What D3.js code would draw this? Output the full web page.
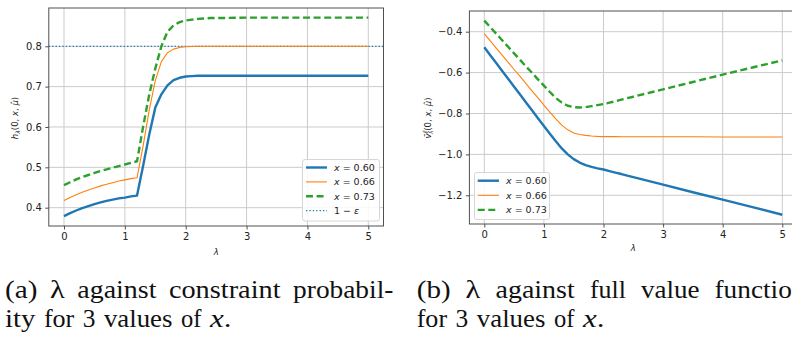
<!DOCTYPE html>
<html><head><meta charset="utf-8">
<script src="https://cdn.jsdelivr.net/npm/d3@7"></script>
<style>body{margin:0;background:#fff}svg{display:block}</style>
</head><body><svg id="c" width="792" height="337"></svg>
<script>
// ---------- data ----------
const lambda = [0,0.1,0.2,0.3,0.4,0.5,0.6,0.7,0.8,0.9,1.0,1.1,1.2,1.3,1.4,1.5,1.6,1.7,1.8,1.9,2.0,2.1,2.2,2.3,2.4,2.5,3.0,3.5,4.0,4.5,5.0];
const seriesLabels = ["0.60","0.66","0.73"];
// (a) constraint probability h_lambda(0,x,mu)
const probX060 = [0.379,0.3865,0.393,0.399,0.404,0.409,0.413,0.417,0.420,0.423,0.425,0.428,0.430,0.504,0.581,0.648,0.681,0.703,0.716,0.722,0.725,0.726,0.727,0.727,0.727,0.727,0.727,0.727,0.727,0.727,0.727];
const probX066 = [0.418,0.425,0.432,0.438,0.444,0.449,0.454,0.458,0.462,0.466,0.469,0.472,0.474,0.553,0.642,0.715,0.762,0.784,0.793,0.797,0.799,0.7995,0.800,0.800,0.800,0.800,0.800,0.800,0.800,0.800,0.800];
const probX073 = [0.456,0.463,0.470,0.476,0.481,0.486,0.491,0.495,0.499,0.503,0.507,0.511,0.515,0.601,0.680,0.745,0.800,0.836,0.852,0.860,0.864,0.866,0.868,0.869,0.870,0.870,0.871,0.871,0.871,0.871,0.871];
const oneMinusEps = 0.8;
// (b) full value function
const valX060 = [-0.476,-0.515,-0.553,-0.592,-0.630,-0.669,-0.707,-0.746,-0.784,-0.823,-0.861,-0.899,-0.936,-0.971,-1.000,-1.023,-1.040,-1.052,-1.061,-1.068,-1.074,-1.0815,-1.089,-1.096,-1.104,-1.111,-1.148,-1.185,-1.221,-1.258,-1.295];
const valX066 = [-0.410,-0.445,-0.480,-0.515,-0.550,-0.585,-0.619,-0.654,-0.689,-0.724,-0.759,-0.793,-0.826,-0.857,-0.880,-0.895,-0.903,-0.907,-0.910,-0.912,-0.913,-0.913,-0.913,-0.914,-0.914,-0.914,-0.914,-0.914,-0.915,-0.915,-0.915];
const valX073 = [-0.346,-0.378,-0.410,-0.442,-0.474,-0.506,-0.538,-0.570,-0.601,-0.633,-0.664,-0.695,-0.724,-0.747,-0.762,-0.769,-0.771,-0.769,-0.764,-0.759,-0.754,-0.747,-0.740,-0.732,-0.725,-0.718,-0.682,-0.646,-0.610,-0.575,-0.540];
// ticks
const xTicks = [0,1,2,3,4,5];
const yTicksA = [0.4,0.5,0.6,0.7,0.8];
const yTicksB = [-1.2,-1.0,-0.8,-0.6,-0.4];

// ---------- drawing ----------
const svg = d3.select("#c");
const FONT = "DejaVu Sans, sans-serif";
const SERIF = '"Liberation Serif", "Times New Roman", serif';
const COLORS = ["#1f77b4","#ff7f0e","#2ca02c"];
const STYLES = [
  {w:2.4, dash:null},
  {w:1.1, dash:null},
  {w:2.4, dash:"7,3.6"}
];

function panel(o){
  const x = d3.scaleLinear().domain([-0.25,5.25]).range([o.left,o.right]);
  const y = d3.scaleLinear().domain(o.ydom).range([o.bottom,o.top]);
  const g = svg.append("g");
  g.selectAll(".gx").data(xTicks).join("line")
    .attr("x1",d=>x(d)).attr("x2",d=>x(d)).attr("y1",o.top).attr("y2",o.bottom)
    .attr("stroke","#cbcbcb").attr("stroke-width",1);
  g.selectAll(".gy").data(o.yTicks).join("line")
    .attr("y1",d=>y(d)).attr("y2",d=>y(d)).attr("x1",o.left).attr("x2",o.right)
    .attr("stroke","#cbcbcb").attr("stroke-width",1);
  if(o.hline!==undefined){
    g.append("line").attr("x1",o.left).attr("x2",o.right)
      .attr("y1",y(o.hline)).attr("y2",y(o.hline))
      .attr("stroke",COLORS[0]).attr("stroke-width",1.3).attr("stroke-dasharray","1.3,2.1");
  }
  const line = d3.line().x((d,i)=>x(lambda[i])).y(d=>y(d));
  o.series.forEach((s,k)=>{
    g.append("path").attr("d",line(s)).attr("fill","none")
      .attr("stroke",COLORS[k]).attr("stroke-width",STYLES[k].w)
      .attr("stroke-dasharray",STYLES[k].dash).attr("stroke-linejoin","round");
  });
  g.append("rect").attr("x",o.left).attr("y",o.top)
    .attr("width",o.right-o.left).attr("height",o.bottom-o.top)
    .attr("fill","none").attr("stroke","#505050").attr("stroke-width",1);
  const ax = g.append("g").attr("transform",`translate(0,${o.bottom})`)
    .call(d3.axisBottom(x).tickValues(xTicks).tickFormat(d3.format("d")).tickSize(3.5).tickPadding(3));
  const ay = g.append("g").attr("transform",`translate(${o.left},0)`)
    .call(d3.axisLeft(y).tickValues(o.yTicks).tickFormat(d3.format(".1f")).tickSize(3.5).tickPadding(3.5));
  [ax,ay].forEach(a=>{
    a.select(".domain").remove();
    a.selectAll(".tick line").attr("stroke","#505050");
    a.selectAll(".tick text").attr("fill","#222").style("font-family",FONT).style("font-size","10px");
  });
  g.append("text").attr("x",(o.left+o.right)/2).attr("y",o.xlabY)
    .attr("text-anchor","middle").attr("font-family",FONT).attr("font-size",8.5)
    .attr("font-style","italic").attr("fill","#222").text("λ");
  const L = o.legend;
  g.append("rect").attr("x",L.x).attr("y",L.y).attr("width",L.w).attr("height",L.h)
    .attr("rx",2.5).attr("fill","#fff").attr("fill-opacity",0.85)
    .attr("stroke","#d6d6d6").attr("stroke-width",1);
  L.items.forEach((it,i)=>{
    const yy = L.y0 + i*L.dy;
    const ln = g.append("line").attr("x1",L.lx1).attr("x2",L.lx2).attr("y1",yy).attr("y2",yy)
      .attr("stroke",it.color).attr("stroke-width",it.w);
    if(it.dash) ln.attr("stroke-dasharray",it.dash);
    const t = g.append("text").attr("x",L.tx).attr("y",yy+3.4)
      .attr("font-family",FONT).attr("font-size",9.5).attr("fill","#222");
    if(it.eps){
      t.append("tspan").text("1 − ");
      t.append("tspan").attr("font-style","italic").text("ε");
    } else {
      t.append("tspan").attr("font-style","italic").text("x");
      t.append("tspan").text(" = "+it.label);
    }
  });
  return {x,y,g};
}

const legendItems = seriesLabels.map((l,k)=>({label:l,color:COLORS[k],w:STYLES[k].w,dash:STYLES[k].dash}));

panel({
  left:48.8,right:383.5,top:8,bottom:226,ydom:[0.3546,0.8949],yTicks:yTicksA,
  series:[probX060,probX066,probX073],hline:oneMinusEps,xlabY:254.5,
  legend:{x:302.5,y:159.5,w:77,h:61.5,y0:167.5,dy:14.4,lx1:306,lx2:327,tx:334,
    items:legendItems.concat([{eps:true,color:COLORS[0],w:1.3,dash:"1.3,2.1"}])}
});
panel({
  left:469.4,right:797.2,top:11,bottom:224,ydom:[-1.3403,-0.2989],yTicks:yTicksB,
  series:[valX060,valX066,valX073],xlabY:251,
  legend:{x:474.5,y:172.5,w:75,h:47,y0:180.7,dy:14.6,lx1:477.7,lx2:499,tx:506,items:legendItems}
});

function ylabA(){
  const t = svg.append("text").attr("transform","translate(18,118) rotate(-90)")
    .attr("text-anchor","middle").attr("font-family",FONT).attr("font-size",8.5).attr("fill","#222");
  t.append("tspan").attr("font-style","italic").text("h");
  t.append("tspan").attr("font-size",6).attr("dy",2).attr("font-style","italic").text("λ");
  t.append("tspan").attr("dy",-2).text("(0, ");
  t.append("tspan").attr("font-style","italic").text("x");
  t.append("tspan").text(", ");
  t.append("tspan").attr("font-style","italic").text("μ̂");
  t.append("tspan").text(")");
}
function ylabB(){
  const t = svg.append("text").attr("transform","translate(431,118) rotate(-90)")
    .attr("text-anchor","middle").attr("font-family",FONT).attr("font-size",8.5).attr("fill","#222");
  t.append("tspan").attr("font-style","italic").text("v̄");
  t.append("tspan").attr("font-size",5.5).attr("dy",-3).attr("font-style","italic").text("ξ̃");
  t.append("tspan").attr("font-size",5.5).attr("dx",-3.5).attr("dy",5).attr("font-style","italic").text("λ");
  t.append("tspan").attr("dy",-2).text("(0, ");
  t.append("tspan").attr("font-style","italic").text("x");
  t.append("tspan").text(", ");
  t.append("tspan").attr("font-style","italic").text("μ̂");
  t.append("tspan").text(")");
}
ylabA(); ylabB();

// captions (LaTeX-like serif, justified word positions: [word, x, targetWidth, italic])
const capA1 = [["(a)",5,32.5],["λ",50,14.8],["against",77.3,79.2],["constraint",168.9,111.7],["probabil-",293.1,100.3]];
const capA2 = [["ity",5,30.4],["for",43.9,30.4],["3",82.7,12.7],["values",103.9,68.6],["of",181,20.5],["x.",210,21.5,true]];
const capB1 = [["(b)",416.7,33.9],["λ",465.5,14.8],["against",495.5,79.2],["full",590,36],["value",641,58.6],["function",714.5,91]];
const capB2 = [["for",416.7,30.4],["3",455.6,12.7],["values",476.8,68.6],["of",553.9,20.5],["x.",582.9,21.5,true]];
function caption(words, baseline){
  const g = svg.append("g");
  words.forEach(w=>{
    const t = g.append("text").attr("x",0).attr("y",0)
      .attr("font-family",SERIF).attr("font-size",25.5).attr("fill","#111");
    if(w[3]){
      t.append("tspan").attr("font-style","italic").text(w[0][0]);
      t.append("tspan").text(w[0].slice(1));
    } else t.text(w[0]);
    const nat = t.node().getComputedTextLength() || w[2];
    const sx = Math.max(0.85, Math.min(1.25, w[2]/nat));
    t.attr("transform",`translate(${w[1]},${baseline}) scale(${sx},1)`);
  });
}
caption(capA1,298); caption(capA2,327);
caption(capB1,298); caption(capB2,327);
</script></body></html>
